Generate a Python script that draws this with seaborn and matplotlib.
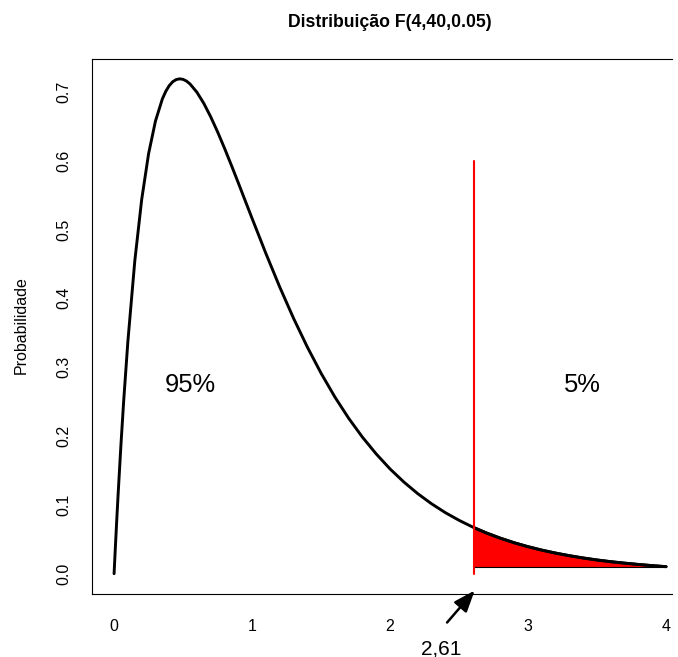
import matplotlib
matplotlib.use("Agg")
import matplotlib.pyplot as plt
import seaborn as sns
import numpy as np
import pandas as pd

# ---- data ----
x_vals = [0.0, 0.01, 0.02, 0.03, 0.05, 0.07, 0.1, 0.15, 0.2, 0.25, 0.3, 0.35,
          0.375, 0.4, 0.425, 0.45, 0.475, 0.5, 0.525, 0.55, 0.6, 0.65, 0.7,
          0.75, 0.8, 0.85, 0.9, 0.95, 1.0, 1.1, 1.2, 1.3, 1.4, 1.5, 1.6, 1.7,
          1.8, 1.9, 2.0, 2.1, 2.2, 2.3, 2.4, 2.5, 2.6, 2.61, 2.7, 2.8, 2.9,
          3.0, 3.1, 3.2, 3.3, 3.4, 3.5, 3.6, 3.7, 3.8, 3.9, 4.0]
density = [0.0, 0.0411, 0.0804, 0.1180, 0.1882, 0.2522, 0.3374, 0.4540, 0.5433,
           0.6099, 0.6575, 0.6896, 0.7007, 0.7089, 0.7145, 0.7176, 0.7187,
           0.7179, 0.7154, 0.7113, 0.6993, 0.6831, 0.6636, 0.6417, 0.6180,
           0.5932, 0.5677, 0.5418, 0.5160, 0.4651, 0.4165, 0.3711, 0.3293,
           0.2911, 0.2566, 0.2257, 0.1982, 0.1738, 0.1521, 0.1331, 0.1163,
           0.1016, 0.0887, 0.0775, 0.0676, 0.0667, 0.0590, 0.0515, 0.0449,
           0.0392, 0.0342, 0.0299, 0.0261, 0.0228, 0.0199, 0.0174, 0.0153,
           0.0134, 0.0117, 0.0102]
critical = 2.61
critical_label = "2,61"
line_top = 0.6
fill_base = 0.0102
region_labels = ["95%", "5%"]
region_label_x = [0.556, 3.393]
x_ticks = [0, 1, 2, 3, 4]
y_ticks = [0.0, 0.1, 0.2, 0.3, 0.4, 0.5, 0.6, 0.7]
title = "Distribuição F(4,40,0.05)"
ylabel = "Probabilidade"

sns.set_style("white")
plt.rcParams['font.family'] = ['Liberation Sans', 'DejaVu Sans']
plt.rcParams['text.color'] = 'black'
plt.rcParams['axes.labelcolor'] = 'black'
plt.rcParams['xtick.color'] = 'black'
plt.rcParams['ytick.color'] = 'black'

W, H = 678, 657
fig = plt.figure(figsize=(W / 100, H / 100), dpi=100)
# axes in pixel terms: left 92, top 59, bottom 594, 138 px per x unit
px_per_unit = 138
right_px = 672
xmin = -0.16
xmax = xmin + (right_px - 92) / px_per_unit
ymin, ymax = -0.0295, 0.7475
ax = fig.add_axes([92 / W, (H - 594) / H, (right_px - 92) / W, (594 - 59) / H])

df = pd.DataFrame({"x": x_vals, "y": density})
sns.lineplot(data=df, x="x", y="y", ax=ax, color="black", linewidth=2.1, sort=False)

# red tail area
tail = df[df["x"] >= critical]
ax.fill_between(tail["x"], fill_base, tail["y"], color="red", linewidth=0, zorder=1)
ax.plot(tail["x"], tail["y"], color="black", linewidth=2.1, zorder=3)
ax.plot([tail["x"].iloc[0], tail["x"].iloc[-1]], [fill_base, fill_base],
        color="black", linewidth=0.8, zorder=2)
ax.plot([critical, critical], [0, line_top], color="red", linewidth=1.5, zorder=4)

for lab, lx in zip(region_labels, region_label_x):
    ax.text(lx, 0.264, lab, ha="center", va="baseline", fontsize=18.4, color="black")

# arrow and critical value label (outside plot area)
ax.annotate("", xy=(critical + 0.003, -0.0245), xytext=(2.413, -0.0709),
            arrowprops=dict(arrowstyle="-|>,head_length=1.3,head_width=0.5",
                            mutation_scale=10, color="black", lw=1.8,
                            shrinkA=0, shrinkB=0),
            annotation_clip=False)
ax.text(2.37, -0.117, critical_label, ha="center", va="baseline",
        fontsize=15, clip_on=False, color="black")

ax.set_xlim(xmin, xmax)
ax.set_ylim(ymin, ymax)
ax.set_xticks(x_ticks)
ax.set_xticklabels([str(t) for t in x_ticks])
ax.set_yticks(y_ticks)
ax.set_yticklabels([f"{t:.1f}" for t in y_ticks], rotation=90, va="center")
ax.tick_params(axis="both", direction="out", length=7.5, width=0.75,
               color="black", labelsize=11.5, labelcolor="black")
ax.tick_params(axis="x", pad=10.5)
ax.tick_params(axis="y", pad=7)
ax.set_xlabel("")
ax.set_ylabel("")
for name, s in ax.spines.items():
    s.set_color("black")
    s.set_linewidth(0.8)
ax.spines["right"].set_visible(False)

fig.text(390 / W, 1 - 26.7 / H, title, ha="center", va="baseline",
         fontsize=12.7, fontweight="bold", color="black")
fig.text(21 / W, 1 - 325 / H, ylabel, ha="center", va="center",
         rotation=90, fontsize=11.5, color="black")

fig.savefig("out.png", dpi=100)
